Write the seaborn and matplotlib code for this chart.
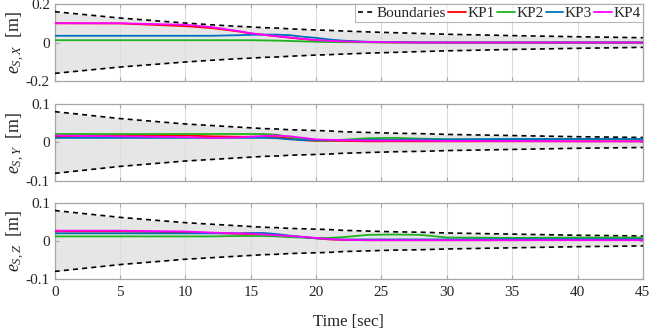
import numpy as np
import pandas as pd
import seaborn as sns
import matplotlib.pyplot as plt

time = [0, 5, 10, 12, 14, 15, 16, 17, 18, 19, 20, 21, 22, 24, 26, 28, 30, 35, 40, 45]

# prescribed performance boundaries (upper, lower is mirrored)
bound_x = [0.160, 0.127, 0.101, 0.092, 0.084, 0.081, 0.077, 0.075, 0.071, 0.068,
           0.065, 0.063, 0.060, 0.055, 0.051, 0.047, 0.043, 0.036, 0.030, 0.025]
bound_yz = [0.080, 0.062, 0.048, 0.044, 0.040, 0.038, 0.036, 0.035, 0.033, 0.032,
            0.031, 0.030, 0.028, 0.026, 0.024, 0.023, 0.021, 0.018, 0.015, 0.013]

# e_S,X
x_kp1 = [0.100, 0.099, 0.085, 0.075, 0.058, 0.047, 0.040, 0.032, 0.025, 0.018,
         0.012, 0.008, 0.005, 0.002, 0.001, 0.000, 0.000, 0.000, 0.000, 0.000]
x_kp2 = [0.012, 0.012, 0.012, 0.012, 0.012, 0.012, 0.011, 0.010, 0.008, 0.006,
         0.004, 0.003, 0.002, 0.001, 0.000, 0.000, 0.000, 0.000, 0.000, 0.000]
x_kp3 = [0.035, 0.035, 0.035, 0.035, 0.038, 0.040, 0.041, 0.041, 0.038, 0.030,
         0.024, 0.016, 0.010, 0.004, 0.002, 0.001, 0.000, 0.000, 0.000, 0.000]
x_kp4 = [0.100, 0.100, 0.092, 0.080, 0.060, 0.048, 0.040, 0.033, 0.026, 0.019,
         0.013, 0.009, 0.006, 0.003, 0.001, 0.000, 0.000, 0.000, 0.000, 0.000]

# e_S,Y
y_kp1 = [0.016, 0.019, 0.018, 0.016, 0.015, 0.015, 0.015, 0.014, 0.010, 0.006,
         0.004, 0.004, 0.004, 0.003, 0.003, 0.003, 0.003, 0.003, 0.003, 0.003]
y_kp2 = [0.022, 0.022, 0.022, 0.022, 0.022, 0.022, 0.022, 0.020, 0.014, 0.008,
         0.005, 0.005, 0.007, 0.011, 0.012, 0.010, 0.008, 0.008, 0.009, 0.009]
y_kp3 = [0.012, 0.012, 0.012, 0.012, 0.012, 0.012, 0.012, 0.011, 0.008, 0.006,
         0.006, 0.006, 0.006, 0.007, 0.007, 0.008, 0.008, 0.009, 0.009, 0.009]
y_kp4 = [0.018, 0.016, 0.014, 0.012, 0.013, 0.015, 0.017, 0.018, 0.016, 0.012,
         0.008, 0.007, 0.006, 0.005, 0.005, 0.005, 0.004, 0.004, 0.003, 0.003]

# e_S,Z
z_kp1 = [0.025, 0.025, 0.023, 0.021, 0.019, 0.018, 0.017, 0.015, 0.013, 0.010,
         0.007, 0.004, 0.003, 0.002, 0.002, 0.002, 0.002, 0.002, 0.003, 0.003]
z_kp2 = [0.012, 0.012, 0.012, 0.012, 0.013, 0.013, 0.013, 0.012, 0.010, 0.009,
         0.008, 0.008, 0.010, 0.016, 0.017, 0.016, 0.009, 0.008, 0.009, 0.009]
z_kp3 = [0.020, 0.020, 0.020, 0.020, 0.020, 0.021, 0.021, 0.018, 0.014, 0.010,
         0.007, 0.005, 0.004, 0.004, 0.004, 0.004, 0.004, 0.005, 0.005, 0.005]
z_kp4 = [0.027, 0.027, 0.025, 0.022, 0.020, 0.019, 0.017, 0.015, 0.013, 0.011,
         0.008, 0.005, 0.003, 0.002, 0.002, 0.002, 0.002, 0.002, 0.002, 0.002]

series_names = ["KP1", "KP2", "KP3", "KP4"]
series_colors = ["#ff0000", "#1fb31f", "#0072bd", "#ff00ff"]

panel_labels = [r"$e_{S,X}$  [m]", r"$e_{S,Y}$  [m]", r"$e_{S,Z}$  [m]"]
panel_series = [[x_kp1, x_kp2, x_kp3, x_kp4],
                [y_kp1, y_kp2, y_kp3, y_kp4],
                [z_kp1, z_kp2, z_kp3, z_kp4]]
panel_bounds = [bound_x, bound_yz, bound_yz]
panel_yticks = [[-0.2, 0, 0.2], [-0.1, 0, 0.1], [-0.1, 0, 0.1]]
panel_yticklabels = [["-0.2", "0", "0.2"], ["-0.1", "0", "0.1"], ["-0.1", "0", "0.1"]]
xticks = [0, 5, 10, 15, 20, 25, 30, 35, 40, 45]

sns.set_theme(style="white")
plt.rcParams["font.family"] = ["Liberation Serif", "DejaVu Serif"]
plt.rcParams["mathtext.fontset"] = "custom"
plt.rcParams["mathtext.rm"] = "Liberation Serif"
plt.rcParams["mathtext.it"] = "Liberation Serif:italic"
plt.rcParams["axes.unicode_minus"] = False

fig = plt.figure(figsize=(6.52, 3.31), dpi=100)
boxes = [(0.084, 0.755, 0.902, 0.233),
         (0.084, 0.453, 0.902, 0.233),
         (0.084, 0.157, 0.902, 0.230)]

for i, box in enumerate(boxes):
    ax = fig.add_axes(box)
    up = np.array(panel_bounds[i])
    ax.fill_between(time, -up, up, color="#e6e6e6", lw=0, zorder=1)
    sns.lineplot(x=time, y=up, ax=ax, color="black", lw=1.2,
                 label="Boundaries" if i == 0 else None, zorder=3)
    sns.lineplot(x=time, y=-up, ax=ax, color="black", lw=1.2, zorder=3)
    for line in ax.get_lines():
        line.set_linestyle((0, (3, 2.5)))

    df = pd.DataFrame({
        "time": np.tile(time, 4),
        "value": np.concatenate(panel_series[i]),
        "series": np.repeat(series_names, len(time)),
    })
    sns.lineplot(data=df, x="time", y="value", hue="series",
                 palette=series_colors, lw=1.3, ax=ax, legend=(i == 0), zorder=4)

    ax.set_xlim(0, 45)
    ax.set_ylim(panel_yticks[i][0], panel_yticks[i][-1])
    ax.set_yticks(panel_yticks[i])
    ax.set_yticklabels(panel_yticklabels[i])
    ax.set_xticks(xticks)
    if i == 2:
        ax.set_xticklabels([str(t) for t in xticks])
        ax.set_xlabel("Time [sec]", fontsize=12, labelpad=11)
    else:
        ax.set_xticklabels([])
        ax.set_xlabel("")
    ax.set_ylabel(panel_labels[i], fontsize=13)
    ax.yaxis.set_label_coords(-0.047, 0.5)

    ax.set_axisbelow("line")
    ax.grid(axis="x", color="#dcdcdc", lw=0.8)
    ax.grid(axis="y", visible=False)
    ax.tick_params(direction="in", length=3, width=0.8, colors="#a6a6a6",
                   labelcolor="#262626", labelsize=11, top=True, right=True,
                   bottom=True, left=True)
    ax.tick_params(axis="x", pad=5)
    for s in ax.spines.values():
        s.set_color("#a6a6a6")
        s.set_linewidth(0.9)

    if i == 0:
        handles, labels = ax.get_legend_handles_labels()
        leg = ax.legend(handles, labels, loc="upper right", ncol=5, fontsize=11,
                        frameon=True, fancybox=False, handlelength=1.15,
                        handletextpad=0.1, columnspacing=0.15, borderpad=0.15,
                        borderaxespad=0.0)
        leg.get_frame().set_edgecolor("#a6a6a6")
        leg.get_frame().set_linewidth(0.8)

fig.savefig("out.png", dpi=100)
